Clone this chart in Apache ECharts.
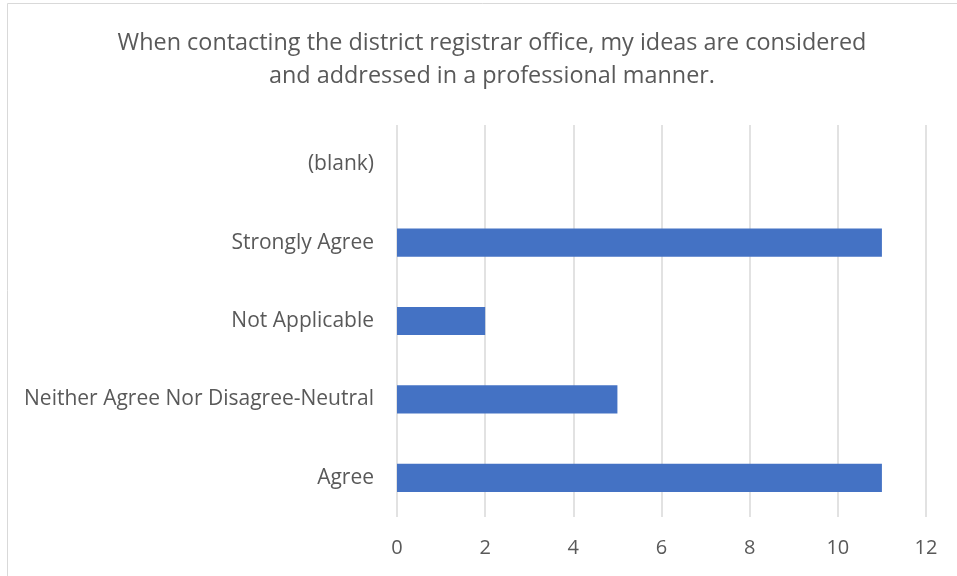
<!DOCTYPE html>
<html>
<head>
<meta charset="utf-8">
<script src="https://cdn.jsdelivr.net/npm/echarts@6/dist/echarts.min.js"></script>
<style>
  html, body { margin: 0; padding: 0; background: #fff; }
  #main { width: 957px; height: 576px; }
</style>
</head>
<body>
<div id="main"></div>
<script>
// categories bottom -> top
const categories = ['Agree', 'Neither Agree Nor Disagree-Neutral', 'Not Applicable', 'Strongly Agree', '(blank)'];
const counts = [11, 5, 2, 11, null];
const titleText = 'When contacting the district registrar office, my ideas are considered\nand addressed in a professional manner.';

const chart = echarts.init(document.getElementById('main'));

const option = {
  animation: false,
  graphic: [{
    type: 'rect',
    shape: { x: 7.5, y: 3.5, width: 960, height: 600 },
    style: { fill: 'none', stroke: '#d9d9d9', lineWidth: 1 },
    silent: true
  }],
  title: {
    text: titleText,
    left: 487,
    textAlign: 'center',
    top: 22,
    textStyle: {
      fontFamily: 'Open Sans, sans-serif',
      fontSize: 23.4,
      fontWeight: 'normal',
      color: '#595959',
      lineHeight: 33
    }
  },
  grid: { left: 397, right: 31, top: 125, bottom: 59 },
  xAxis: {
    type: 'value',
    min: 0,
    max: 12,
    interval: 2,
    axisLine: { show: false },
    axisTick: { show: false },
    splitLine: { lineStyle: { color: '#d9d9d9', width: 1.5 } },
    axisLabel: {
      margin: 21,
      fontFamily: 'Open Sans, sans-serif',
      fontSize: 20,
      color: '#595959'
    }
  },
  yAxis: {
    type: 'category',
    data: categories,
    axisLine: { show: false },
    axisTick: { show: false },
    axisLabel: {
      margin: 23,
      fontFamily: 'Open Sans, sans-serif',
      fontSize: 21,
      color: '#595959'
    }
  },
  series: [{
    type: 'bar',
    data: counts,
    barWidth: '36%',
    itemStyle: { color: '#4472c4' }
  }]
};

chart.setOption(option);
</script>
</body>
</html>
